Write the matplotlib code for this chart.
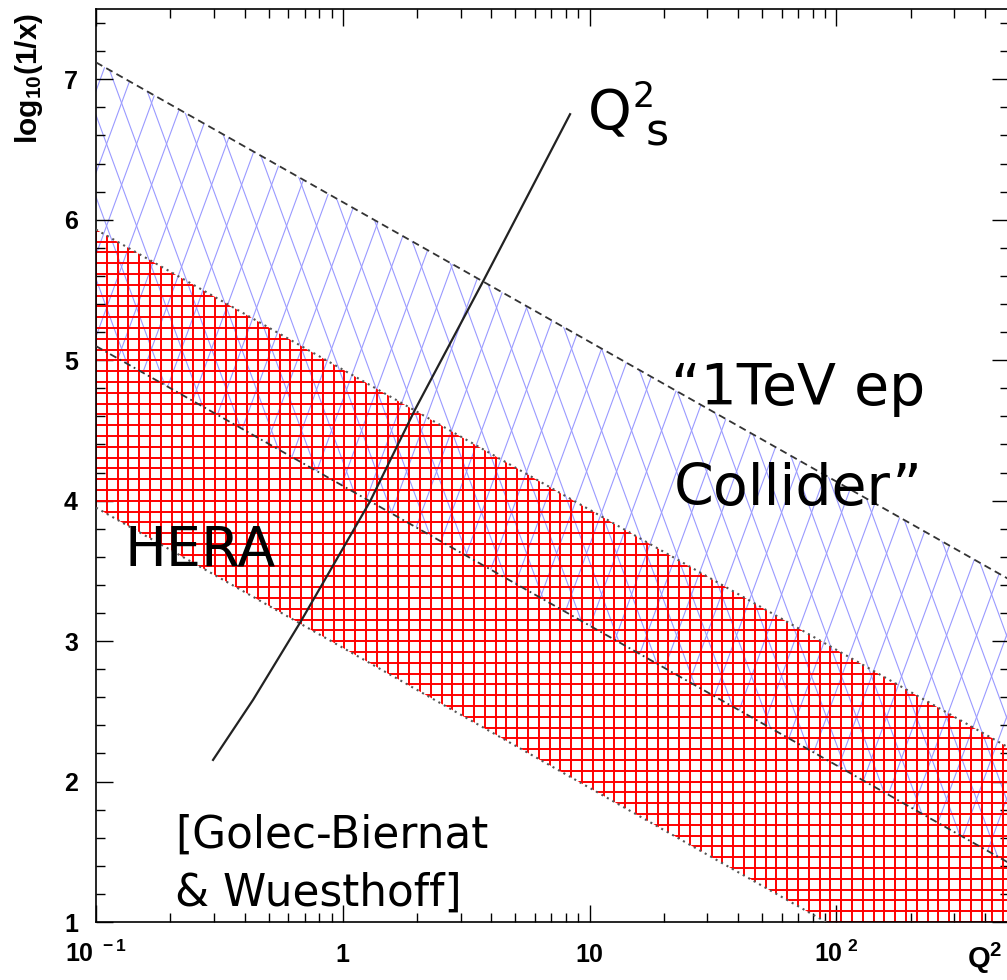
import numpy as np
import matplotlib
matplotlib.use('Agg')
import matplotlib.pyplot as plt
import matplotlib.transforms as mtransforms
from matplotlib.collections import LineCollection
from matplotlib.ticker import MultipleLocator, LogLocator

plt.rcParams['font.family'] = 'DejaVu Sans'
plt.rcParams['mathtext.fontset'] = 'custom'
plt.rcParams['mathtext.bf'] = 'Liberation Sans:bold'
plt.rcParams['mathtext.rm'] = 'Liberation Sans'
plt.rcParams['mathtext.sf'] = 'DejaVu Sans'

# band edges: log10(1/x) at Q2 = 0.1 and Q2 = 500
q2_ends = [0.1, 500.0]
ep_upper = [7.12, 3.44]
ep_lower = [5.10, 1.42]
hera_upper = [5.93, 2.24]
hera_lower = [3.95, 0.26]

# saturation scale Q2_s (Golec-Biernat & Wuesthoff)
qs_q2 = [0.298, 0.433, 0.671, 1.288, 1.961, 3.70, 8.33]
qs_y = [2.154, 2.582, 3.131, 3.993, 4.648, 5.561, 6.751]

yticks = [1, 2, 3, 4, 5, 6, 7]
xticks = [0.1, 1, 10, 100]
xtick_labels = [r'$\mathbf{10^{\ -1}}$', r'$\mathbf{1}$', r'$\mathbf{10}$', r'$\mathbf{10^{\ 2}}$']

W, H = 1007, 980
AX = 913.0  # axes size in pixels
fig = plt.figure(figsize=(W / 100, H / 100), dpi=100)
ax = fig.add_axes([96 / W, 58 / H, AX / W, AX / H])
ax.set_xscale('log')


def band(lo, hi):
    xs = q2_ends + q2_ends[::-1]
    ys = lo + hi[::-1]
    return ax.fill(xs, ys, facecolor='none', edgecolor='none')[0]


def diamond_lines(w, slope):
    segs = []
    dx = AX / slope
    for x0 in np.arange(-dx - w, AX + dx + w, w):
        segs.append([(x0 / AX, 0), ((x0 + dx) / AX, 1)])
        segs.append([(x0 / AX, 0), ((x0 - dx) / AX, 1)])
    return segs


def grid_lines(d):
    segs = []
    for k in np.arange(0, AX + d, d):
        segs.append([(k / AX, 0), (k / AX, 1)])
        segs.append([(0, k / AX), (1, k / AX)])
    return segs


ep_patch = band(ep_lower, ep_upper)
hera_patch = band(hera_lower, hera_upper)

blue = LineCollection(diamond_lines(30.0, 2.73), colors='#9a9aff', linewidths=0.8,
                      transform=ax.transAxes, zorder=1)
ax.add_collection(blue, autolim=False)
blue.set_clip_path(ep_patch)

red = LineCollection(grid_lines(10.8), colors='#ff0000', linewidths=1.4,
                     transform=ax.transAxes, zorder=2)
ax.add_collection(red, autolim=False)
red.set_clip_path(hera_patch)

ax.plot(q2_ends, ep_upper, color='#333333', lw=1.3, ls=(0, (4, 2.5)), zorder=3)
ax.plot(q2_ends, ep_lower, color='#333333', lw=1.3, ls=(0, (4, 2, 1, 2)), zorder=3)
ax.plot(q2_ends, hera_upper, color='#555555', lw=1.5, ls=(0, (1, 2)), zorder=3)
ax.plot(q2_ends, hera_lower, color='#555555', lw=1.5, ls=(0, (1, 2)), zorder=3)

ax.plot(qs_q2, qs_y, color='#222222', lw=1.6, zorder=4)

ax.set_xlim(0.1, 500)
ax.set_ylim(1, 7.5)

ax.set_yticks(yticks, labels=[str(v) for v in yticks], fontsize=18,
              fontweight='bold', fontfamily='Liberation Sans')
ax.yaxis.set_minor_locator(MultipleLocator(0.2))
ax.set_xticks(xticks)
ax.xaxis.set_minor_locator(LogLocator(subs=np.arange(2, 10)))
ax.tick_params(which='both', direction='in', top=True, right=True, width=1.0,
               labelbottom=False)
ax.tick_params(which='major', length=12.5)
ax.tick_params(which='minor', length=6.5)
ax.tick_params(axis='y', pad=13)
for sp in ax.spines.values():
    sp.set_linewidth(1.2)

trans = mtransforms.blended_transform_factory(ax.transData, ax.transAxes)
for v, lab in zip(xticks, xtick_labels):
    ax.text(v, -40 / AX, lab, transform=trans, ha='center', va='baseline',
            fontsize=18, clip_on=False)

fig.text(29 / W, 1 - 13 / H, r'$\mathbf{log_{10}(1/x)}$', rotation=90,
         ha='center', va='top', fontsize=21.5)
fig.text(1002 / W, 1 - 976 / H, r'$\mathbf{Q^{2}}$', ha='right', va='bottom', fontsize=21)

ax.text(0.131, 3.537, 'HERA', fontsize=40, ha='left', va='baseline')
ax.text(70, 4.684, '\u201c1TeV ep', fontsize=41, ha='center', va='baseline')
ax.text(70, 3.971, 'Collider\u201d', fontsize=41, ha='center', va='baseline')
ax.text(0.209, 1.527, '[Golec-Biernat', fontsize=31.5, ha='left', va='baseline')
ax.text(0.209, 1.12, '& Wuesthoff]', fontsize=31.5, ha='left', va='baseline')
ax.text(9.85, 6.644, 'Q', fontsize=40, ha='left', va='baseline')
ax.text(14.86, 6.80, '2', fontsize=25, ha='left', va='baseline')
ax.text(16.9, 6.53, 's', fontsize=32, ha='left', va='baseline')

fig.savefig('out.png', dpi=100)
